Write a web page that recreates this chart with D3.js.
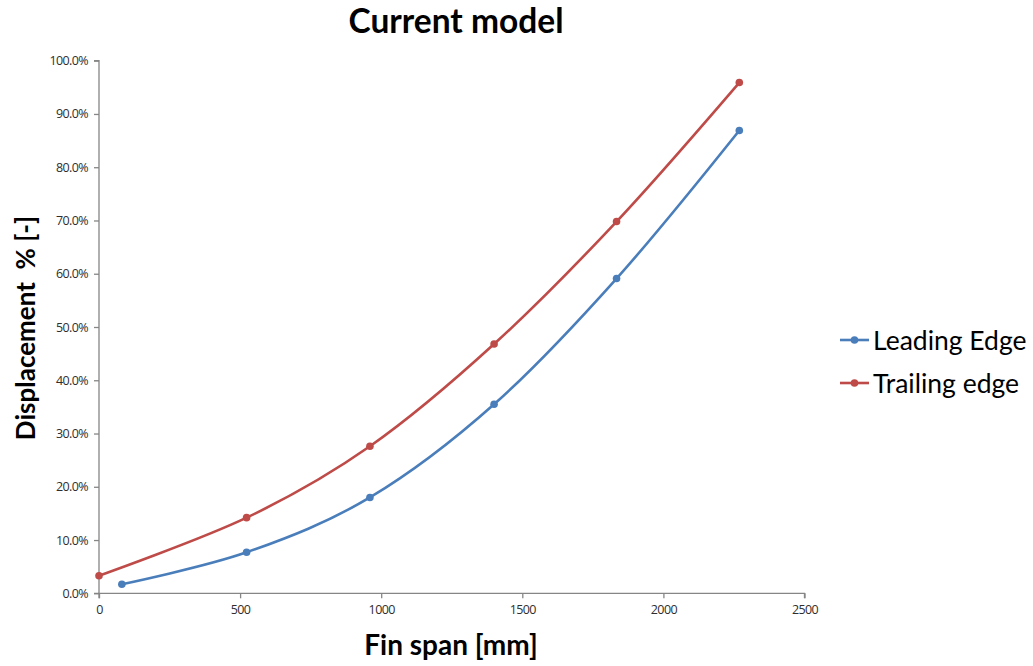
<!DOCTYPE html>
<html>
<head>
<meta charset="utf-8">
<script src="https://cdn.jsdelivr.net/npm/d3@7"></script>
<style>
  html, body { margin: 0; padding: 0; background: #ffffff; }
  svg { display: block; }
  text { font-family: Lato, "Open Sans", sans-serif; }
</style>
</head>
<body>
<svg id="chart" width="1033" height="666"></svg>
<script>
// Fin span positions (mm) for each measured station
const spanLeading = [81, 523, 960, 1400, 1834, 2269];
const spanTrailing = [0, 523, 960, 1400, 1834, 2269];
// Displacement as a fraction of the reference
const leadingEdge = [0.017, 0.077, 0.180, 0.355, 0.591, 0.869];
const trailingEdge = [0.033, 0.142, 0.276, 0.468, 0.698, 0.959];

const xTicks = [0, 500, 1000, 1500, 2000, 2500];
const yTicks = [0, 0.1, 0.2, 0.3, 0.4, 0.5, 0.6, 0.7, 0.8, 0.9, 1.0];

const seriesNames = ["Leading Edge", "Trailing edge"];
const seriesColors = ["#4a7ebb", "#be4b48"];

const svg = d3.select("#chart");

const margin = { left: 99, right: 1033 - 804.5, top: 60.7, bottom: 666 - 593.3 };
const x = d3.scaleLinear().domain([0, 2500]).range([margin.left, 804.5]);
const y = d3.scaleLinear().domain([0, 1]).range([593.3, margin.top]);

const axisColor = "#868686";
const labelColor = "#2e2e2e";

// Axes
const yAxis = svg.append("g")
  .attr("transform", `translate(${x(0)},0)`)
  .call(d3.axisLeft(y).tickValues(yTicks).tickSize(5).tickPadding(6)
    .tickFormat(d => (d * 100).toFixed(1) + "%"));
const xAxis = svg.append("g")
  .attr("transform", `translate(0,${y(0)})`)
  .call(d3.axisBottom(x).tickValues(xTicks).tickSize(5).tickPadding(7)
    .tickFormat(d3.format("d")));

[yAxis, xAxis].forEach(g => {
  g.select(".domain").attr("stroke", axisColor).attr("stroke-width", 1.3);
  g.selectAll(".tick line").attr("stroke", axisColor).attr("stroke-width", 1.3);
  g.selectAll(".tick text")
    .attr("fill", labelColor)
    .style("font-family", "'Open Sans', sans-serif")
    .style("font-size", "12.5px")
    .style("letter-spacing", "-0.6px");
});
yAxis.selectAll(".domain").attr("d", `M-5,${y(1)}H0V${y(0)}H-5`);
xAxis.selectAll(".domain").attr("d", `M${x(0)},5V0H${x(2500)}V5`);

// Series lines and markers
const series = [
  { name: seriesNames[0], color: seriesColors[0], xs: spanLeading, ys: leadingEdge },
  { name: seriesNames[1], color: seriesColors[1], xs: spanTrailing, ys: trailingEdge }
];

const line = d3.line()
  .x(d => x(d[0]))
  .y(d => y(d[1]))
  .curve(d3.curveCardinal.tension(0));

series.forEach(s => {
  const pts = s.xs.map((v, i) => [v, s.ys[i]]);
  svg.append("path")
    .datum(pts)
    .attr("fill", "none")
    .attr("stroke", s.color)
    .attr("stroke-width", 2.6)
    .attr("d", line);
  svg.append("g")
    .selectAll("circle")
    .data(pts)
    .join("circle")
    .attr("cx", d => x(d[0]))
    .attr("cy", d => y(d[1]))
    .attr("r", 3.8)
    .attr("fill", s.color);
});

// Title
svg.append("text")
  .attr("x", 456)
  .attr("y", 33)
  .attr("text-anchor", "middle")
  .style("font-weight", "bold")
  .style("font-size", "33.5px")
  .attr("fill", "#000")
  .text("Current model");

// Axis titles
svg.append("text")
  .attr("x", 451)
  .attr("y", 655)
  .attr("text-anchor", "middle")
  .style("font-weight", "bold")
  .style("font-size", "28px")
  .attr("fill", "#000")
  .text("Fin span [mm]");

svg.append("text")
  .attr("transform", "translate(35,328) rotate(-90)")
  .attr("text-anchor", "middle")
  .attr("xml:space", "preserve")
  .style("white-space", "pre")
  .style("font-weight", "bold")
  .style("font-size", "26px")
  .attr("fill", "#000")
  .text("Displacement  % [-]");

// Legend
const legend = svg.append("g");
series.forEach((s, i) => {
  const ly = 340 + i * 43;
  legend.append("line")
    .attr("x1", 840).attr("x2", 869)
    .attr("y1", ly).attr("y2", ly)
    .attr("stroke", s.color).attr("stroke-width", 2.6);
  legend.append("circle")
    .attr("cx", 854.5).attr("cy", ly).attr("r", 3.8)
    .attr("fill", s.color);
  legend.append("text")
    .attr("x", 873).attr("y", ly + 9.5)
    .style("font-size", "26.5px")
    .attr("fill", "#000")
    .text(s.name);
});
</script>
</body>
</html>
